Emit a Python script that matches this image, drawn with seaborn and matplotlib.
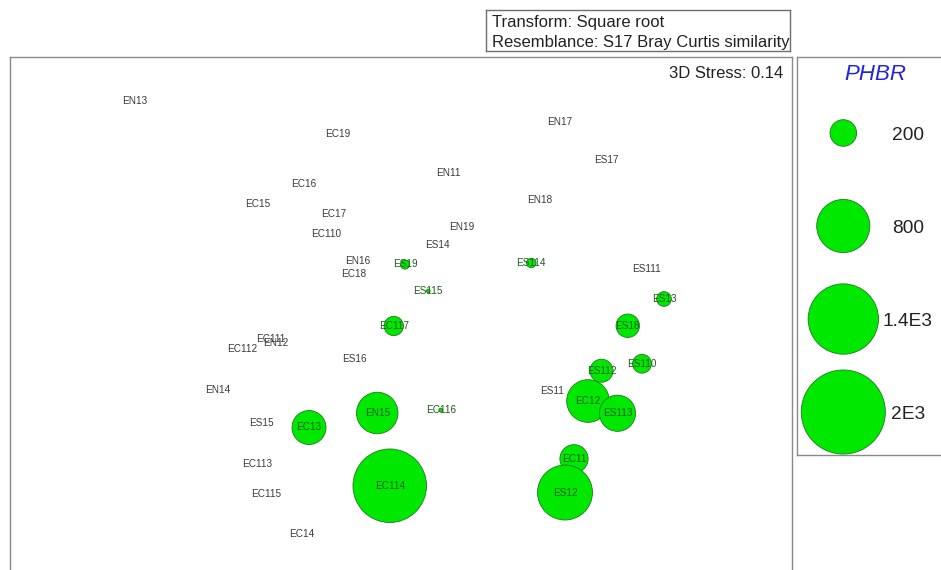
import matplotlib
matplotlib.use("Agg")
import matplotlib.pyplot as plt
import numpy as np
import pandas as pd
import seaborn as sns

# nMDS ordination of samples, bubble size = PHBR
samples = [
    "EN13", "EC19", "EC16", "EC15", "EC17", "EC110", "EN17", "ES17", "EN11",
    "EN18", "EN19", "ES14", "EN16", "EC18", "ES111", "EC111", "EN12", "EC112",
    "ES16", "EN14", "ES11", "ES15", "EC113", "EC115", "EC14",
    "EC114", "EN15", "EC13", "EC117", "ES19", "ES115", "EC116", "ES114",
    "ES13", "ES18", "ES110", "ES112", "EC12", "ES113", "EC11", "ES12",
]
mds1 = [
    -1.060, -0.251, -0.383, -0.571, -0.267, -0.296, 0.640, 0.827, 0.193,
    0.557, 0.247, 0.149, -0.171, -0.187, 0.987, -0.516, -0.496, -0.633,
    -0.184, -0.727, 0.607, -0.553, -0.572, -0.536, -0.393,
    -0.041, -0.091, -0.364, -0.025, 0.020, 0.113, 0.163, 0.525,
    1.056, 0.911, 0.968, 0.806, 0.752, 0.870, 0.696, 0.660,
]
mds2 = [
    0.797, 0.664, 0.464, 0.383, 0.343, 0.263, 0.712, 0.560, 0.507,
    0.400, 0.293, 0.220, 0.155, 0.103, 0.125, -0.156, -0.173, -0.197,
    -0.237, -0.359, -0.364, -0.493, -0.657, -0.776, -0.936,
    -0.743, -0.452, -0.510, -0.104, 0.142, 0.036, -0.440, 0.148,
    0.004, -0.103, -0.255, -0.283, -0.404, -0.453, -0.635, -0.770,
]
phbr = [
    0, 0, 0, 0, 0, 0, 0, 0, 0,
    0, 0, 0, 0, 0, 0, 0, 0, 0,
    0, 0, 0, 0, 0, 0, 0,
    1530, 487, 327, 106, 24, 4, 4, 25,
    61, 155, 100, 150, 515, 370, 225, 855,
]

legend_values = [200, 800, 1400, 2000]
legend_labels = ["200", "800", "1.4E3", "2E3"]

stress_text = "3D Stress: 0.14"
info_lines = ["Transform: Square root", "Resemblance: S17 Bray Curtis similarity"]
legend_title = "PHBR"

sns.set_style("white")
plt.rcParams["font.family"] = ["Liberation Sans", "DejaVu Sans"]

W, H = 941, 570
fig = plt.figure(figsize=(W / 100, H / 100), dpi=100)


def px_box(x0, y0, x1, y1):
    return [x0 / W, 1 - y1 / H, (x1 - x0) / W, (y1 - y0) / H]


BUBBLE = "#00e800"
BUBBLE_EDGE = "#1d7a1d"
FRAME = "#8a8a8a"
size_kw = dict(size="PHBR", sizes=(0, 3664), size_norm=(0, 2000), legend=False,
               color=BUBBLE, edgecolor=BUBBLE_EDGE, linewidth=0.6)

df = pd.DataFrame({"sample": samples, "MDS1": mds1, "MDS2": mds2, "PHBR": phbr})

# --- ordination panel ---
ax = fig.add_axes(px_box(10, 57, 792, 600))
sns.scatterplot(data=df[df["PHBR"] > 0], x="MDS1", y="MDS2", ax=ax, zorder=2, **size_kw)
for name, x, y, v in zip(df["sample"], df["MDS1"], df["MDS2"], df["PHBR"]):
    ax.text(x, y, name, ha="center", va="center", fontsize=7.2,
            color="#1c5e1c" if v > 0 else "#3a3a3a", zorder=3)
ax.set_xlim(-1.56, 1.568)
ax.set_ylim(-1.2, 0.972)
ax.set_xticks([])
ax.set_yticks([])
ax.set_xlabel("")
ax.set_ylabel("")
ax.text(0.9885, 0.9608, stress_text, transform=ax.transAxes, ha="right",
        va="baseline", fontsize=12, color="#222222")
for sp in ax.spines.values():
    sp.set_color(FRAME)
    sp.set_linewidth(1.0)

# --- info box ---
tax = fig.add_axes(px_box(486, 10, 789.5, 51))
tax.set_xticks([])
tax.set_yticks([])
for sp in tax.spines.values():
    sp.set_color("#6e6e6e")
    sp.set_linewidth(1.0)
for line, yb in zip(info_lines, [0.593, 0.09]):
    tax.text(0.019, yb, line, transform=tax.transAxes, ha="left", va="baseline",
             fontsize=12, color="#222222")

# --- bubble size key ---
lax = fig.add_axes(px_box(796.5, 57, 960, 455))
key = pd.DataFrame({"PHBR": legend_values, "row": np.arange(len(legend_values)),
                    "col": np.zeros(len(legend_values))})
sns.scatterplot(data=key, x="col", y="row", ax=lax, zorder=2, **size_kw)
for r, lab in zip(key["row"], legend_labels):
    lax.text(64.7, r + 0.075, lab, ha="center", va="baseline", fontsize=13.8,
             color="#222222")
lax.text(31.7, -0.57, legend_title, ha="center", va="baseline", fontsize=16,
         style="italic", color="#2323d8")
lax.set_xlim(-46.8, 116.7)
lax.set_ylim(3.462, -0.817)
lax.set_xticks([])
lax.set_yticks([])
lax.set_xlabel("")
lax.set_ylabel("")
for sp in lax.spines.values():
    sp.set_color(FRAME)
    sp.set_linewidth(1.0)

fig.savefig("out.png", dpi=100)
